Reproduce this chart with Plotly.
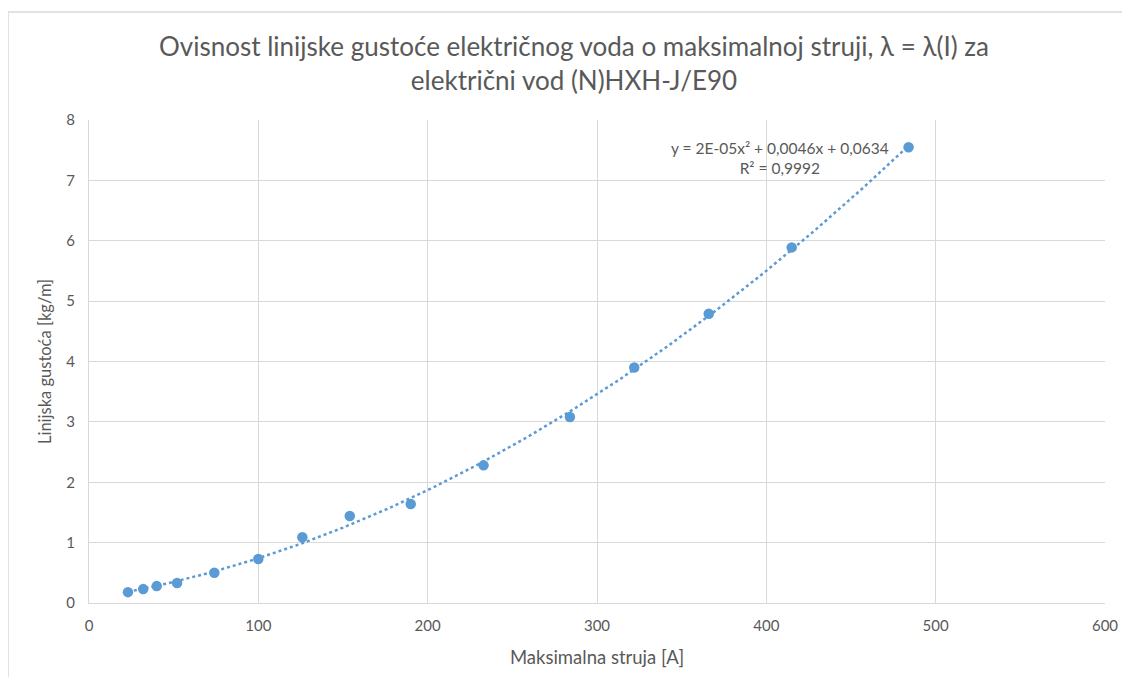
import numpy as np
import plotly.graph_objects as go

# Data
struja = [23, 32, 40, 52, 74, 100, 126, 154, 190, 233, 284, 322, 366, 415, 484]
gustoca = [0.18, 0.23, 0.28, 0.33, 0.50, 0.73, 1.09, 1.44, 1.64, 2.28, 3.08, 3.90, 4.79, 5.89, 7.55]

title_text = "Ovisnost linijske gustoće električnog voda o maksimalnoj struji, λ = λ(I) za<br>električni vod (N)HXH-J/E90"
x_title = "Maksimalna struja [A]"
y_title = "Linijska gustoća [kg/m]"
eq_text = "y = 2E-05x² + 0,0046x + 0,0634<br>R² = 0,9992"

# Polynomial (order 2) trendline fitted to the data
coef = np.polyfit(struja, gustoca, 2)
xf = np.linspace(min(struja), max(struja), 200)
yf = np.polyval(coef, xf)

gray = "#595959"
grid = "#D9D9D9"
blue = "#5B9BD5"
font = "Lato"

# page offset (body margin 8px)
OFF = 8
W, H = 1114, 669
L, T, R, B = 89 - OFF, 120 - OFF, W - (1105 - OFF), H - (603 - OFF)
PW, PH = W - L - R, H - T - B

def px(xabs):
    return (xabs - OFF - L) / PW

def py(yabs):
    return (H - B - (yabs - OFF)) / PH

fig = go.Figure()
fig.add_trace(go.Scatter(x=xf, y=yf, mode="lines",
                         line=dict(color=blue, width=2.5, dash="dot"),
                         hoverinfo="skip", showlegend=False))
fig.add_trace(go.Scatter(x=struja, y=gustoca, mode="markers",
                         marker=dict(color=blue, size=10.5),
                         showlegend=False))

fig.update_layout(
    width=W, height=H,
    paper_bgcolor="white", plot_bgcolor="white",
    margin=dict(l=L, r=R, t=T, b=B, autoexpand=False),
    font=dict(family=font, color=gray),
    title=dict(text=title_text, x=px(574), xref="paper", xanchor="center",
               y=1 - (56 - OFF) / H, yanchor="middle",
               font=dict(family=font, size=26, color=gray)),
    xaxis=dict(range=[0, 600], dtick=100, showgrid=True, gridcolor=grid, gridwidth=1,
               zeroline=False, showline=True, linecolor=grid, linewidth=1, mirror=False,
               ticks="", tickfont=dict(size=15, color=gray), ticklabelstandoff=9,
               automargin=False,
               title=dict(text=x_title, font=dict(size=18.5, color=gray), standoff=18)),
    yaxis=dict(range=[0, 8], dtick=1, showgrid=True, gridcolor=grid, gridwidth=1,
               zeroline=False, showline=True, linecolor=grid, linewidth=1,
               ticks="", tickfont=dict(size=15, color=gray), ticklabelstandoff=10,
               automargin=False,
               title=dict(text=y_title, font=dict(size=16.5, color=gray), standoff=10)),
)

fig.add_annotation(text=eq_text, xref="paper", yref="paper",
                   x=px(780), y=py(158),
                   xanchor="center", yanchor="middle", showarrow=False, align="center",
                   font=dict(size=15.5, color=gray))

# Chart border
fig.add_shape(type="rect", xref="paper", yref="paper",
              x0=px(8), x1=px(1140), y0=py(700), y1=py(12),
              line=dict(color=grid, width=1.5), layer="below")

fig.write_html("out.html")
